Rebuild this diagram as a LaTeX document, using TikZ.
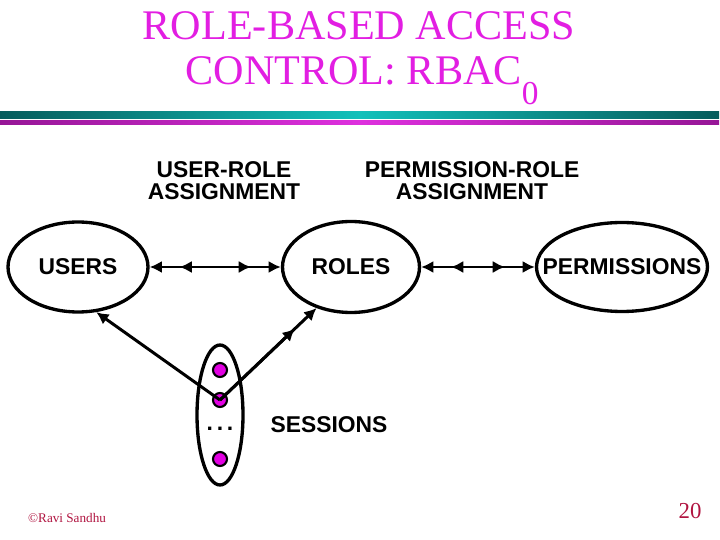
\documentclass[tikz,border=0pt]{standalone}
\usepackage{fontspec}
\setmainfont{Liberation Serif}
\setsansfont{Liberation Sans}
\usetikzlibrary{arrows.meta,shapes.geometric}

\definecolor{titlepink}{RGB}{226,30,226}
\definecolor{tealdark}{RGB}{6,92,92}
\definecolor{teallight}{RGB}{18,192,186}
\definecolor{pinkdark}{RGB}{150,22,150}
\definecolor{pinklight}{RGB}{222,48,222}
\definecolor{footred}{RGB}{176,20,64}
\definecolor{dotpink}{RGB}{226,0,226}

\tikzset{
    entity/.style={draw, ellipse, line width=1.9pt, inner sep=0pt},
    lbl/.style={font=\sffamily\bfseries\fontsize{13}{12.5}\selectfont, align=center},
    sessdot/.style={draw, circle, fill=dotpink, line width=1.2pt, minimum size=0.28cm, inner sep=0pt},
    conn/.style={line width=1.7pt, >={Latex[length=7pt,width=7pt]}},
    % second head of a "many" end sits a bit further back
    inner/.style={conn, shorten <=17pt, shorten >=17pt}
}

\begin{document}
\begin{tikzpicture}[x=0.02cm, y=-0.02cm]
    \useasboundingbox (0,0) rectangle (720,540);

    % title
    \node[anchor=base, text=titlepink, font=\fontsize{24}{24}\selectfont] (title1) at (359,40) {ROLE-BASED ACCESS};
    \node[anchor=base, text=titlepink, font=\fontsize{24}{24}\selectfont] (title2) at (362,85) {CONTROL: RBAC\raisebox{-11pt}{\fontsize{19}{19}\selectfont 0}};
    \shade[left color=tealdark, right color=tealdark, middle color=teallight] (0,112) rectangle (719,119);
    \shade[left color=pinkdark, right color=pinkdark, middle color=pinklight] (0,121) rectangle (719,125);

    % the three sets
    \node[entity, minimum width=2.8cm, minimum height=1.8cm, label={[lbl]center:USERS}] (users) at (78,267) {};
    \node[entity, minimum width=2.74cm, minimum height=1.82cm, label={[lbl]center:ROLES}] (roles) at (351,267) {};
    \node[entity, minimum width=3.42cm, minimum height=1.78cm, label={[lbl]center:PERMISSIONS}] (perms) at (622,267) {};

    \node[lbl] (ua) at (224,181) {USER-ROLE\\ASSIGNMENT};
    \node[lbl] (pa) at (472,181) {PERMISSION-ROLE\\ASSIGNMENT};

    \draw[conn, <->] (users) -- (roles);
    \draw[inner, <->] (users) -- (roles);
    \draw[conn, <->] (roles) -- (perms);
    \draw[inner, <->] (roles) -- (perms);

    % sessions
    \node[entity, minimum width=0.92cm, minimum height=2.8cm] (sess) at (220,415) {};
    \node[sessdot] (s1) at (220,370) {};
    \node[sessdot] (s2) at (220,400) {};
    \node[sessdot] (s3) at (220,459) {};
    \node[lbl] (sdots) at (220,429) {.\,.\,.};
    \node[lbl] (slabel) at (329,425) {SESSIONS};

    \draw[conn, ->] (s2.center) -- (users.-68);
    \draw[conn, ->] (s2.center) -- (roles.230);
    \draw[conn, ->, shorten >=17pt] (s2.center) -- (roles.230);

    % footer
    \node[anchor=base west, text=footred, font=\fontsize{7.5}{7.5}\selectfont] (copy) at (22,522) {\textcopyright Ravi Sandhu};
    \node[anchor=base, text=footred, font=\fontsize{13}{13}\selectfont] (page) at (690,518) {20};
\end{tikzpicture}
\end{document}
